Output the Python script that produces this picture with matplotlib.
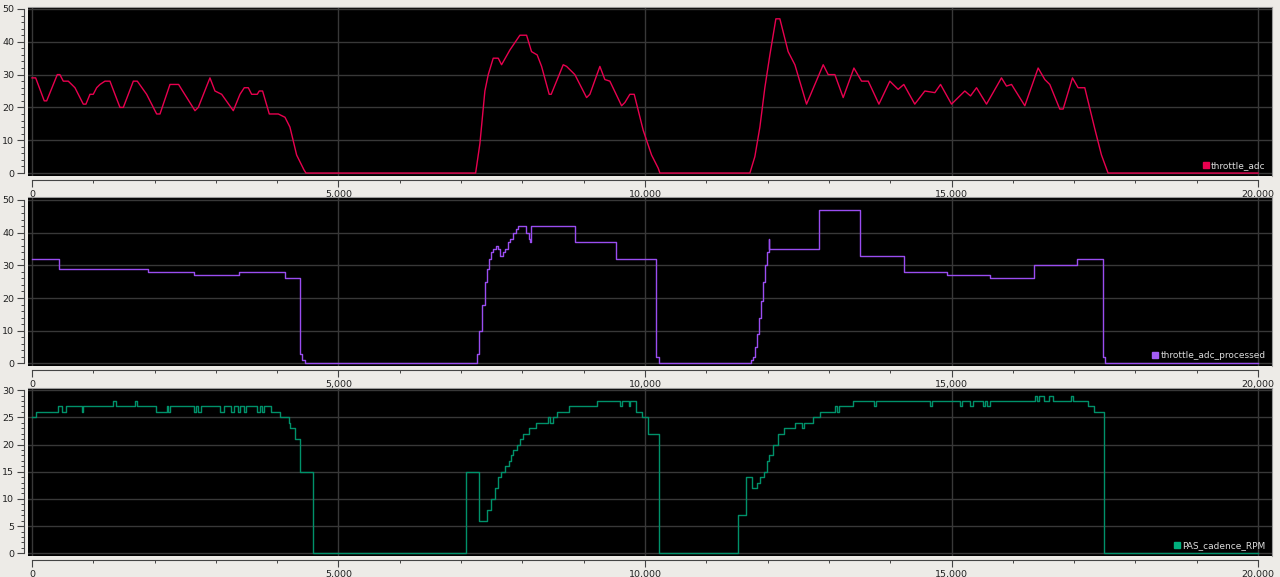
import matplotlib
matplotlib.use('Agg')
import matplotlib.pyplot as plt
from matplotlib.ticker import MultipleLocator, FuncFormatter
from matplotlib.lines import Line2D

# ---------------- data ----------------
adc_t = [0, 60, 200, 240, 413, 455, 511, 592, 647, 701, 837, 880, 946, 1000, 1055, 1109,
         1190, 1272, 1435, 1490, 1653, 1718, 1870, 2034, 2088, 2251, 2392, 2441, 2659, 2713,
         2903, 2985, 3094, 3284, 3393, 3463, 3529, 3583, 3675, 3707, 3762, 3871, 4018, 4127,
         4208, 4317, 4436, 4469,
         7237, 7307, 7388, 7443, 7524, 7606, 7660, 7796, 7959, 8068, 8149, 8241, 8313, 8437,
         8470, 8666, 8721, 8856, 9047, 9101, 9264, 9345, 9427, 9618, 9672, 9753, 9824, 9971,
         10107, 10215, 10243,
         11711, 11792, 11874, 11955, 12037, 12135, 12200, 12335, 12445, 12635, 12907, 12988,
         13097, 13233, 13408, 13533, 13642, 13816, 13994, 14129, 14222, 14401, 14565, 14728,
         14821, 15000, 15217, 15310, 15408, 15571, 15815, 15897, 15979, 16196, 16413, 16522,
         16603, 16766, 16821, 16973, 17065, 17174, 17337, 17446, 17554, 20000]
adc_v = [29, 29, 22, 22, 30, 30, 28, 28, 27, 26, 21, 21, 24, 24, 26, 27,
         28, 28, 20, 20, 28, 28, 24, 18, 18, 27, 27, 25.5, 19, 20,
         29, 25, 24, 19, 24, 26, 26, 24, 24, 25, 25, 18, 18, 17,
         14, 5.5, 1, 0,
         0, 9, 25, 30, 35, 35, 33, 37.5, 42, 42, 37, 36, 32.5, 24,
         24, 33, 32.5, 30, 23, 24, 32.5, 28.5, 28, 20.5, 21.5, 24, 24, 13,
         5.5, 1.5, 0,
         0, 5, 14, 26, 36, 47, 47, 37, 33, 21, 33, 30,
         30, 23, 32, 28, 28, 21, 28, 25.5, 27, 21, 25, 24.5,
         27, 21, 25, 23.5, 26, 21, 29, 26.5, 27, 20.5, 32, 28.5,
         27, 19.5, 19.5, 29, 26, 26, 13.5, 5.5, 0, 0]

proc_t = [0, 437, 1898, 2643, 3373, 4124, 4369, 4400, 4456,
          7226, 7260, 7292, 7340, 7391, 7425, 7458, 7490, 7525, 7570, 7604, 7630, 7680,
          7720, 7757, 7800, 7844, 7890, 7936, 8060, 8100, 8122, 8135, 8853, 9530,
          10181, 10221,
          11696, 11730, 11762, 11800, 11829, 11860, 11894, 11930, 11961, 11990, 12015,
          12030, 12838, 13509, 14226, 14924, 15634, 16344, 17054, 17473, 17500, 20000]
proc_v = [32, 29, 28, 27, 28, 26, 3, 1, 0,
          0, 3, 10, 18, 25, 29, 32, 34, 35, 36, 35, 33, 34,
          35, 37, 38, 40, 41, 42, 40, 38, 37, 42, 37, 32,
          2, 0,
          0, 1, 2, 5, 9, 14, 19, 25, 30, 34, 38,
          35, 47, 33, 28, 27, 26, 30, 32, 2, 0, 0]

cad_t = [0, 72, 417, 484, 550, 816, 836, 1327, 1367, 1679, 1713, 2018, 2197, 2217, 2257,
         2643, 2676, 2716, 2749, 3074, 3128, 3247, 3294, 3367, 3393, 3459, 3486, 3672, 3719,
         3751, 3791, 3891, 4044, 4190, 4217, 4283, 4369, 4581,
         7079, 7299, 7417, 7491, 7558, 7600, 7657, 7710, 7777, 7810, 7845, 7910, 7960, 8010,
         8109, 8222, 8421, 8450, 8501, 8568, 8767, 9219, 9597, 9620, 9737, 9760, 9849, 9956,
         10049, 10221,
         11517, 11642, 11749, 11829, 11868, 11935, 11982, 12015, 12081, 12162, 12261, 12440,
         12561, 12593, 12746, 12859, 13104, 13140, 13170, 13390, 13735, 13770, 14646, 14686,
         15137, 15170, 15303, 15344, 15510, 15545, 15580, 15622, 16355, 16390, 16430, 16510,
         16596, 16663, 16943, 16982, 17222, 17328, 17494, 20000]
cad_v = [25, 26, 27, 26, 27, 26, 27, 28, 27, 28, 27, 26, 27, 26, 27,
         26, 27, 26, 27, 26, 27, 26, 27, 26, 27, 26, 27, 26, 27,
         26, 27, 26, 25, 24, 23, 21, 15, 0,
         15, 6, 8, 10, 12, 14, 15, 16, 17, 18, 19, 20, 21, 22,
         23, 24, 25, 24, 25, 26, 27, 28, 27, 28, 27, 28, 26, 25,
         22, 0,
         7, 14, 12, 13, 14, 15, 17, 18, 20, 22, 23, 24,
         23, 24, 25, 26, 27, 26, 27, 28, 27, 28, 27, 28,
         27, 28, 27, 28, 27, 28, 27, 28, 29, 28, 29, 28,
         29, 28, 29, 28, 27, 26, 0, 0]

names = ['throttle_adc', 'throttle_adc_processed', 'PAS_cadence_RPM']
colors = ['#e8004f', '#9a4df0', '#00916a']
legend_colors = ['#e8004f', '#a35cf5', '#00b07e']

# ---------------- layout ----------------
W, H = 1280, 577
fig = plt.figure(figsize=(W / 100, H / 100), dpi=100, facecolor='#edebe7')

panels = [
    # (top px, bottom px, ylim, major, minor)
    (7, 176, (-0.9, 50.6), 10, 2),
    (197, 366, (-0.8, 50.9), 10, 2),
    (388, 556, (-0.5, 30.4), 5, 1),
]
series = [(adc_t, adc_v, None), (proc_t, proc_v, 'steps-post'), (cad_t, cad_v, 'steps-post')]

left_px, right_px = 28, 1272
for i, ((top, bot, ylim, maj, mnr), (t, v, ds)) in enumerate(zip(panels, series)):
    ax = fig.add_axes([left_px / W, 1 - bot / H, (right_px - left_px) / W, (bot - top) / H])
    ax.set_facecolor('black')
    kw = {}
    if ds:
        kw['drawstyle'] = ds
    ax.plot(t, v, color=colors[i], lw=1.0, **kw)
    ax.set_xlim(-65, 20228)
    ax.set_ylim(*ylim)
    ax.xaxis.set_major_locator(MultipleLocator(5000))
    ax.xaxis.set_minor_locator(MultipleLocator(1000))
    ax.yaxis.set_major_locator(MultipleLocator(maj))
    ax.yaxis.set_minor_locator(MultipleLocator(mnr))
    ax.xaxis.set_major_formatter(FuncFormatter(lambda x, p: f'{int(x):,}'))
    ax.grid(True, which='major', color='#383838', lw=1.0)
    ax.set_axisbelow(True)
    for s in ['top', 'right']:
        ax.spines[s].set_color('#9a9a9a')
        ax.spines[s].set_linewidth(0.8)
    for s in ['left', 'bottom']:
        ax.spines[s].set_position(('outward', 3))
        ax.spines[s].set_color('#444444')
        ax.spines[s].set_linewidth(0.8)
    ax.spines['bottom'].set_bounds(0, 20000)
    ax.spines['left'].set_bounds(0, ylim[1] - (ylim[1] % maj))
    ax.tick_params(which='major', length=5, width=0.8, color='#444444',
                   labelsize=6.8, labelcolor='#222222', pad=2)
    ax.tick_params(which='minor', length=2.5, width=0.7, color='#444444')
    h = [Line2D([], [], marker='s', linestyle='none', color=legend_colors[i], markersize=4)]
    leg = ax.legend(h, [names[i]], loc='lower right', frameon=False, fontsize=6.5,
                    handletextpad=0.2, borderaxespad=0.3, handlelength=0.8,
                    labelcolor='#dcdcdc')

fig.savefig('out.png', dpi=100, facecolor=fig.get_facecolor())
